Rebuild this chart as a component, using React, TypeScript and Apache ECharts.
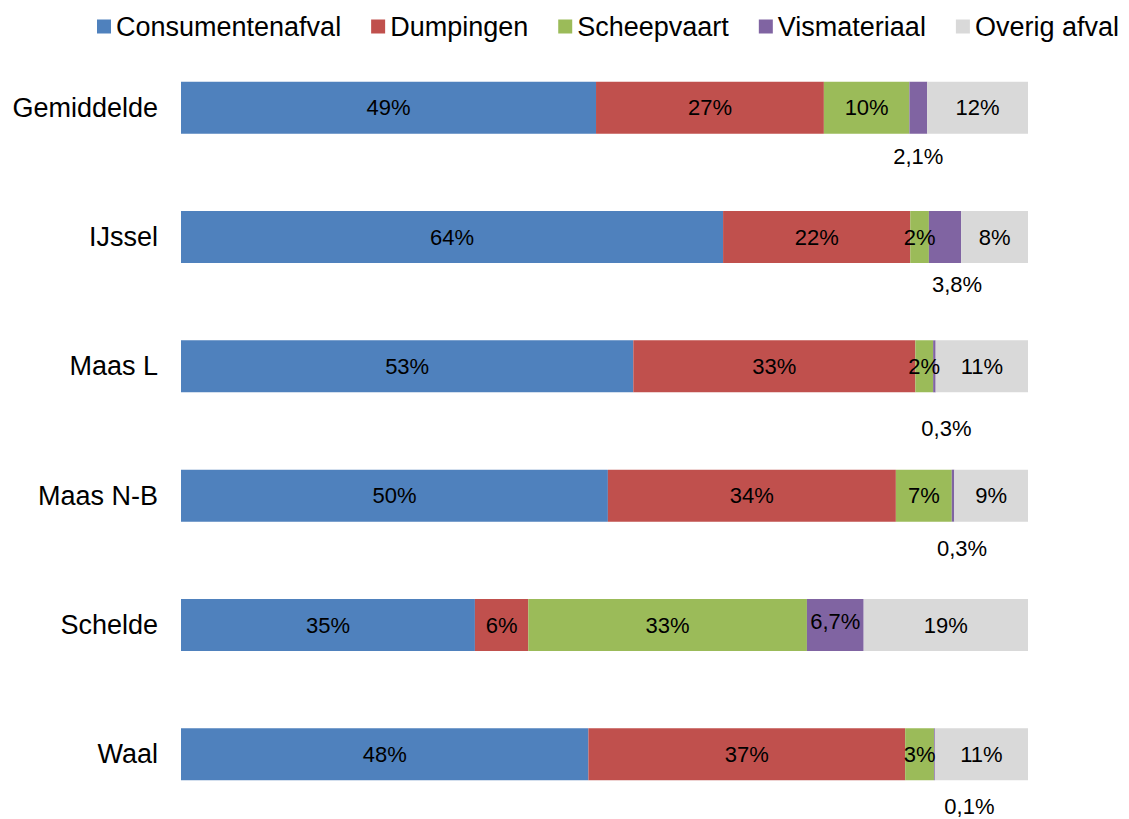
import React, { useEffect, useRef } from "react";
import * as echarts from "echarts";

const categories = ["Gemiddelde", "IJssel", "Maas L", "Maas N-B", "Schelde", "Waal"];
const seriesNames = ["Consumentenafval", "Dumpingen", "Scheepvaart", "Vismateriaal", "Overig afval"];
const consumentenafval = [49.0, 64.0, 53.4, 50.4, 34.7, 48.1];
const dumpingen = [26.9, 22.1, 33.3, 34.0, 6.3, 37.4];
const scheepvaart = [10.1, 2.2, 2.1, 6.6, 32.9, 3.4];
const vismateriaal = [2.1, 3.8, 0.3, 0.3, 6.7, 0.1];
const overigAfval = [11.9, 7.9, 10.9, 8.7, 19.4, 11.0];
const colors = ["#4F81BD", "#C0504D", "#9BBB59", "#8064A2", "#D9D9D9"];

// label placement for Vismateriaal (outside below bar, except Schelde)
const visLabelOffsets: ([number, number] | null)[] = [[0, 12], [12, 10], [12, 25], [9, 16], null, [35, 15]];

const FONT = "Liberation Sans, Arial, sans-serif";

export default function App() {
  const ref = useRef<HTMLDivElement>(null);
  useEffect(() => {
    if (!ref.current) return;
    const chart = echarts.init(ref.current, undefined, { renderer: "svg" });
    const allData = [consumentenafval, dumpingen, scheepvaart, vismateriaal, overigAfval];
    const series = allData.map((arr, si) => {
      const isVis = si === 3;
      return {
        name: seriesNames[si],
        type: "bar",
        stack: "total",
        barWidth: 52,
        itemStyle: { color: colors[si] },
        label: {
          show: true,
          position: "inside",
          color: "#000",
          fontSize: 22,
          fontFamily: FONT,
          formatter: (p: any) =>
            isVis ? p.value.toFixed(1).replace(".", ",") + "%" : Math.round(p.value) + "%",
        },
        data: arr.map((v, ci) => {
          if (isVis) {
            const off = visLabelOffsets[ci];
            if (off) {
              return { value: v, label: { position: "bottom", distance: 0, offset: off } };
            }
            return { value: v, label: { position: "inside", offset: [0, -4] } };
          }
          return v;
        }),
      };
    });
    chart.setOption({
      animation: false,
      color: colors,
      legend: {
        data: seriesNames,
        left: 92,
        top: 8,
        icon: "rect",
        itemWidth: 14,
        itemHeight: 14,
        itemGap: 30,
        textStyle: { fontSize: 27, fontFamily: FONT, color: "#000" },
      },
      grid: { left: 181, right: 101, top: 43, bottom: 0, containLabel: false },
      xAxis: { type: "value", min: 0, max: 100, show: false },
      yAxis: {
        type: "category",
        data: categories,
        inverse: true,
        axisLine: { show: false },
        axisTick: { show: false },
        axisLabel: { fontSize: 27, fontFamily: FONT, color: "#000", margin: 23 },
      },
      series,
    });
    return () => chart.dispose();
  }, []);
  return <div ref={ref} style={{ position: "absolute", left: 0, top: 0, width: 1129, height: 819 }} />;
}
